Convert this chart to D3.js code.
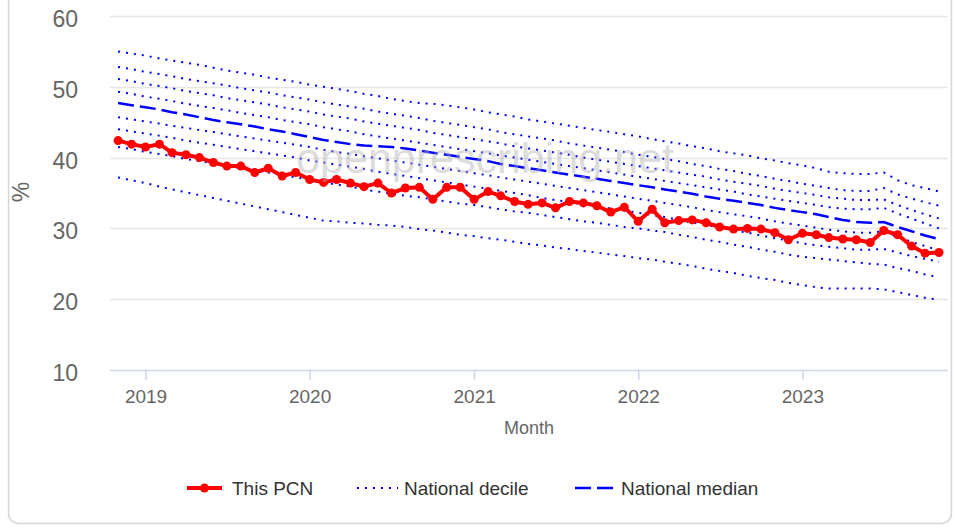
<!DOCTYPE html>
<html>
<head>
<meta charset="utf-8">
<script src="https://cdn.jsdelivr.net/npm/d3@7"></script>
<style>
  html, body { margin: 0; padding: 0; background: #fff; }
  svg { display: block; font-family: "Liberation Sans", Arial, sans-serif; }
</style>
</head>
<body>
<svg id="chart" width="955" height="529"></svg>
<script>
// ---- Data ----
const startMonth = "2018-11-01";
const endMonth = "2023-11-01";
const yearTicks = [2019, 2020, 2021, 2022, 2023];
const yTicks = [10, 20, 30, 40, 50, 60];

const thisPCN = [42.4, 41.9, 41.5, 41.9, 40.7, 40.4, 40.0, 39.3, 38.8, 38.8,
  37.9, 38.5, 37.4, 37.9, 36.9, 36.5, 36.9, 36.4, 35.9, 36.4,
  35.0, 35.7, 35.8, 34.1, 35.8, 35.8, 34.1, 35.2, 34.6, 33.8,
  33.4, 33.6, 32.9, 33.8, 33.6, 33.2, 32.3, 33.0, 31.0, 32.7,
  30.8, 31.1, 31.2, 30.8, 30.2, 29.9, 30.0, 29.9, 29.4, 28.4,
  29.3, 29.1, 28.7, 28.5, 28.4, 28.0, 29.7, 29.1, 27.5, 26.5, 26.6];

const median = [47.7, 47.4, 47.1, 46.8, 46.4, 46.1, 45.7, 45.3, 45.0, 44.7, 44.4,
  44.0, 43.7, 43.3, 42.9, 42.5, 42.2, 41.9, 41.7, 41.6, 41.5,
  41.3, 41.0, 40.7, 40.4, 40.1, 39.8, 39.5, 39.1, 38.8, 38.5,
  38.2, 37.9, 37.6, 37.3, 37.0, 36.7, 36.4, 36.1, 35.8, 35.5,
  35.2, 34.9, 34.5, 34.2, 33.9, 33.6, 33.3, 32.9, 32.6, 32.3,
  32.0, 31.6, 31.2, 30.9, 30.8, 30.9, 30.2, 29.6, 29.0, 28.5];

const p90 = [55.0, 54.7, 54.4, 54.0, 53.7, 53.4, 53.1, 52.7, 52.3, 52.0, 51.7,
  51.3, 51.0, 50.7, 50.3, 50.0, 49.7, 49.4, 49.0, 48.7, 48.3,
  48.0, 47.7, 47.6, 47.4, 47.1, 46.8, 46.4, 46.1, 45.8, 45.4,
  45.1, 44.8, 44.5, 44.2, 43.9, 43.6, 43.3, 43.0, 42.6, 42.3,
  42.0, 41.6, 41.3, 40.9, 40.6, 40.3, 39.9, 39.6, 39.2, 38.9,
  38.5, 38.0, 37.8, 37.7, 37.7, 37.9, 36.8, 36.1, 35.7, 35.2];

const p80 = [52.8, 52.5, 52.1, 51.8, 51.5, 51.1, 50.8, 50.5, 50.2, 49.8, 49.5,
  49.2, 48.8, 48.5, 48.2, 47.8, 47.5, 47.2, 46.9, 46.5,
  46.2, 45.9, 45.6, 45.2, 44.9, 44.6, 44.3, 44.0, 43.6, 43.3, 43.0,
  42.7, 42.4, 42.0, 41.7, 41.4, 41.1, 40.8, 40.4, 40.1, 39.8,
  39.5, 39.1, 38.8, 38.4, 38.1, 37.7, 37.4, 37.0, 36.7, 36.3,
  36.0, 35.7, 35.4, 35.3, 35.3, 35.7, 34.8, 34.2, 33.7, 33.2];

const p70 = [51.1, 50.8, 50.4, 50.1, 49.8, 49.4, 49.1, 48.8, 48.4, 48.1, 47.8,
  47.5, 47.1, 46.8, 46.5, 46.1, 45.8, 45.5, 45.1, 44.8,
  44.5, 44.2, 43.9, 43.5, 43.2, 42.9, 42.6, 42.3, 42.0, 41.6, 41.3,
  41.0, 40.7, 40.4, 40.0, 39.7, 39.4, 39.1, 38.8, 38.5, 38.2,
  37.9, 37.6, 37.3, 36.9, 36.6, 36.3, 36.0, 35.6, 35.3, 35.0,
  34.7, 34.4, 34.2, 34.0, 34.0, 34.1, 33.3, 32.6, 32.0, 31.4];

const p60 = [49.3, 49.0, 48.6, 48.3, 48.0, 47.6, 47.3, 47.0, 46.7, 46.3, 46.0,
  45.7, 45.3, 45.0, 44.7, 44.3, 44.0, 43.7, 43.3, 43.0,
  42.7, 42.4, 42.1, 41.8, 41.5, 41.2, 40.9, 40.6, 40.3, 40.0, 39.7,
  39.4, 39.1, 38.8, 38.5, 38.2, 37.9, 37.6, 37.3, 37.0, 36.7,
  36.4, 36.1, 35.8, 35.5, 35.2, 34.8, 34.5, 34.2, 33.9, 33.6,
  33.3, 33.0, 32.8, 32.7, 32.7, 32.9, 32.1, 31.4, 30.7, 30.0];

const p40 = [45.7, 45.4, 45.1, 44.8, 44.5, 44.2, 43.9, 43.6, 43.3, 43.0, 42.7,
  42.4, 42.1, 41.8, 41.5, 41.1, 40.8, 40.5, 40.2, 39.9,
  39.6, 39.3, 39.0, 38.7, 38.4, 38.1, 37.8, 37.5, 37.2, 36.9, 36.6,
  36.3, 36.0, 35.7, 35.4, 35.1, 34.8, 34.5, 34.2, 33.9, 33.6,
  33.3, 33.0, 32.6, 32.3, 32.0, 31.7, 31.4, 31.0, 30.7, 30.4,
  30.1, 29.8, 29.6, 29.4, 29.4, 29.6, 28.8, 28.1, 27.5, 26.9];

const p30 = [44.0, 43.7, 43.4, 43.1, 42.8, 42.4, 42.1, 41.8, 41.5, 41.2, 40.9,
  40.6, 40.3, 40.0, 39.6, 39.3, 39.0, 38.7, 38.4, 38.0,
  37.7, 37.4, 37.1, 36.8, 36.5, 36.2, 35.9, 35.6, 35.3, 35.0, 34.7,
  34.3, 34.0, 33.7, 33.4, 33.1, 32.8, 32.5, 32.2, 31.9, 31.6,
  31.2, 30.8, 30.5, 30.1, 29.7, 29.4, 29.0, 28.6, 28.3, 27.9,
  27.6, 27.4, 27.2, 27.0, 27.0, 27.1, 26.6, 26.1, 25.7, 25.3];

const p20 = [41.5, 41.2, 40.8, 40.5, 40.2, 39.8, 39.5, 39.2, 38.8, 38.5, 38.2,
  37.9, 37.5, 37.2, 36.9, 36.5, 36.2, 35.9, 35.5, 35.2,
  34.9, 34.6, 34.4, 34.1, 33.8, 33.5, 33.3, 33.0, 32.7, 32.4, 32.2,
  31.9, 31.6, 31.3, 31.0, 30.8, 30.5, 30.2, 30.0, 29.7, 29.5,
  29.1, 28.8, 28.4, 28.1, 27.7, 27.4, 27.0, 26.7, 26.3, 26.0,
  25.8, 25.6, 25.4, 25.2, 25.0, 24.9, 24.4, 24.0, 23.5, 23.1];

const p10 = [37.2, 36.8, 36.4, 35.9, 35.5, 35.1, 34.7, 34.3, 33.9, 33.5, 33.1,
  32.7, 32.3, 31.9, 31.5, 31.1, 31.0, 30.8, 30.7, 30.5, 30.4,
  30.2, 29.9, 29.7, 29.4, 29.1, 28.9, 28.6, 28.4, 28.1, 27.8,
  27.6, 27.3, 27.1, 26.8, 26.6, 26.3, 26.1, 25.8, 25.6, 25.3,
  25.0, 24.7, 24.3, 24.0, 23.7, 23.3, 23.0, 22.7, 22.3, 22.0,
  21.7, 21.5, 21.5, 21.5, 21.5, 21.4, 21.0, 20.6, 20.2, 19.9];

const deciles = [p90, p80, p70, p60, p40, p30, p20, p10];

// ---- Setup ----
const parse = d3.utcParse("%Y-%m-%d");
const months = d3.utcMonth.range(parse(startMonth), d3.utcMonth.offset(parse(endMonth), 1));

const svg = d3.select("#chart");
const plot = { left: 110, right: 948, top: 16, bottom: 370 };

const x = d3.scaleUtc()
  .domain([parse("2018-10-14"), parse("2023-11-21")])
  .range([plot.left, plot.right]);
const y = d3.scaleLinear().domain([10, 60]).range([plot.bottom, plot.top]);

const FONT = '"Liberation Sans", Arial, sans-serif';

// card
svg.append("rect")
  .attr("x", 8.5).attr("y", -30).attr("width", 943).attr("height", 553.5)
  .attr("rx", 10).attr("fill", "#fff")
  .attr("stroke", "#d6d6d6").attr("stroke-width", 1.5);

// gridlines
svg.append("g").selectAll("line").data(yTicks.filter(d => d > 10)).join("line")
  .attr("x1", plot.left).attr("x2", plot.right)
  .attr("y1", d => Math.round(y(d)) + 0.5).attr("y2", d => Math.round(y(d)) + 0.5)
  .attr("stroke", "#e6e6e6").attr("stroke-width", 1.5);

// y labels
svg.append("g").selectAll("text").data(yTicks).join("text")
  .attr("x", 78).attr("y", d => y(d) + 11)
  .attr("text-anchor", "end")
  .attr("font-size", 23).attr("fill", "#666")
  .text(d => d);

// y title
svg.append("text")
  .attr("transform", "translate(29,192) rotate(-90)")
  .attr("text-anchor", "middle")
  .attr("font-size", 23).attr("fill", "#666")
  .text("%");

// x axis via d3.axisBottom
const xAxis = d3.axisBottom(x)
  .tickValues(yearTicks.map(yv => new Date(Date.UTC(yv, 0, 1))))
  .tickFormat(d3.utcFormat("%Y"))
  .tickSize(10).tickSizeOuter(0);
const gx = svg.append("g")
  .attr("transform", `translate(0,${plot.bottom})`)
  .call(xAxis);
gx.select(".domain").attr("stroke", "#ccd6eb").attr("stroke-width", 1.5)
  .attr("d", `M${plot.left},0.5H${plot.right}`);
gx.selectAll(".tick line").attr("stroke", "#ccd6eb").attr("stroke-width", 1.5);
gx.selectAll(".tick text")
  .attr("font-family", FONT).attr("font-size", 19).attr("fill", "#666")
  .attr("dy", 0).attr("y", 33);

// x title
svg.append("text")
  .attr("x", (plot.left + plot.right) / 2).attr("y", 434)
  .attr("text-anchor", "middle")
  .attr("font-size", 18).attr("fill", "#666")
  .text("Month");

// lines
const line = d3.line()
  .x((d, i) => x(months[i]))
  .y(d => y(d));

const gLines = svg.append("g");
deciles.forEach(arr => {
  gLines.append("path")
    .attr("d", line(arr))
    .attr("fill", "none")
    .attr("stroke", "#0000ff")
    .attr("stroke-width", 2)
    .attr("stroke-dasharray", "2,6");
});
gLines.append("path")
  .attr("d", line(median))
  .attr("fill", "none")
  .attr("stroke", "#0000ff")
  .attr("stroke-width", 2.5)
  .attr("stroke-dasharray", "16,6");

gLines.append("path")
  .attr("d", line(thisPCN))
  .attr("fill", "none")
  .attr("stroke", "#ff0000")
  .attr("stroke-width", 4)
  .attr("stroke-linejoin", "round");
gLines.append("g").selectAll("circle").data(thisPCN).join("circle")
  .attr("cx", (d, i) => x(months[i]))
  .attr("cy", d => y(d))
  .attr("r", 4.5)
  .attr("fill", "#ff0000");

// watermark
svg.append("text")
  .attr("x", 485).attr("y", 173)
  .attr("text-anchor", "middle")
  .attr("font-size", 43)
  .attr("fill", "#b0b0b0").attr("fill-opacity", 0.45)
  .text("openprescribing.net");

// legend
const lg = svg.append("g");
const ly = 488;
lg.append("line").attr("x1", 187).attr("x2", 222).attr("y1", ly).attr("y2", ly)
  .attr("stroke", "#ff0000").attr("stroke-width", 4);
lg.append("circle").attr("cx", 204.5).attr("cy", ly).attr("r", 4.5).attr("fill", "#ff0000");
lg.append("text").attr("x", 232).attr("y", ly + 7).attr("font-size", 19).attr("fill", "#333").text("This PCN");

lg.append("line").attr("x1", 357).attr("x2", 398).attr("y1", ly).attr("y2", ly)
  .attr("stroke", "#0000ff").attr("stroke-width", 2).attr("stroke-dasharray", "2,6");
lg.append("text").attr("x", 404).attr("y", ly + 7).attr("font-size", 19).attr("fill", "#333").text("National decile");

lg.append("line").attr("x1", 575).attr("x2", 613).attr("y1", ly).attr("y2", ly)
  .attr("stroke", "#0000ff").attr("stroke-width", 2.5).attr("stroke-dasharray", "16,6");
lg.append("text").attr("x", 621).attr("y", ly + 7).attr("font-size", 19).attr("fill", "#333").text("National median");
</script>
</body>
</html>
